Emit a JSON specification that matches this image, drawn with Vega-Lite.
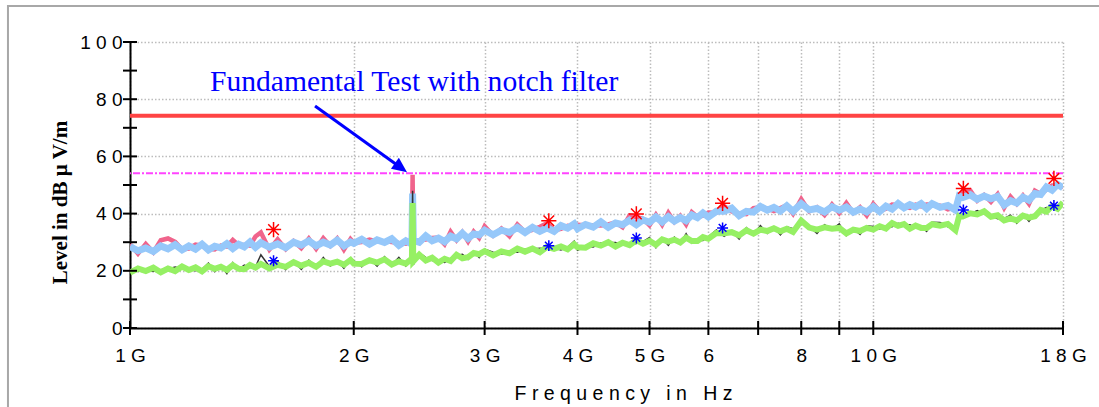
{
  "$schema": "https://vega.github.io/schema/vega-lite/v6.json",
  "width": 933,
  "height": 286,
  "autosize": "none",
  "padding": {"left": 130, "top": 42, "right": 36, "bottom": 79},
  "background": "white",
  "config": {"view": {"stroke": null}},
  "datasets": {
    "tr": [
      {"f":1.000,"b":28.5,"p":29.3,"g":19.4,"k":20.5},
      {"f":1.025,"b":27.0,"p":26.0,"g":20.8,"k":19.8},
      {"f":1.050,"b":28.0,"p":29.4,"g":19.9,"k":20.3},
      {"f":1.075,"b":26.8,"p":26.5,"g":21.1,"k":19.8},
      {"f":1.100,"b":28.7,"p":30.7,"g":19.5,"k":20.4},
      {"f":1.125,"b":27.7,"p":31.3,"g":20.8,"k":20.6},
      {"f":1.150,"b":29.1,"p":30.1,"g":19.9,"k":21.3},
      {"f":1.175,"b":27.3,"p":27.5,"g":21.5,"k":20.7},
      {"f":1.200,"b":28.7,"p":27.8,"g":20.3,"k":20.6},
      {"f":1.225,"b":27.6,"p":29.2,"g":21.2,"k":20.0},
      {"f":1.250,"b":29.3,"p":28.8,"g":19.8,"k":20.5},
      {"f":1.275,"b":27.3,"p":27.7,"g":21.6,"k":22.7},
      {"f":1.300,"b":28.6,"p":27.5,"g":20.7,"k":19.7},
      {"f":1.325,"b":28.0,"p":28.8,"g":21.4,"k":21.8},
      {"f":1.350,"b":29.5,"p":28.5,"g":20.3,"k":19.0},
      {"f":1.375,"b":27.8,"p":30.8,"g":22.0,"k":22.9},
      {"f":1.400,"b":29.3,"p":29.0,"g":20.7,"k":20.5},
      {"f":1.425,"b":28.4,"p":29.0,"g":20.6,"k":22.0},
      {"f":1.450,"b":30.1,"p":28.8,"g":22.0,"k":21.2},
      {"f":1.475,"b":28.2,"p":32.0,"g":21.1,"k":21.4},
      {"f":1.50,"b":29.8,"p":33.4,"g":22.4,"k":25.6},
      {"f":1.54,"b":28.3,"p":27.4,"g":20.8,"k":21.5},
      {"f":1.58,"b":29.4,"p":31.0,"g":22.1,"k":23.2},
      {"f":1.62,"b":28.1,"p":27.6,"g":21.4,"k":20.4},
      {"f":1.66,"b":30.0,"p":30.4,"g":23.0,"k":23.4},
      {"f":1.70,"b":29.0,"p":27.9,"g":21.8,"k":20.5},
      {"f":1.74,"b":30.5,"p":31.3,"g":22.8,"k":23.7},
      {"f":1.78,"b":28.7,"p":27.7,"g":21.4,"k":21.2},
      {"f":1.82,"b":30.0,"p":31.4,"g":23.3,"k":24.7},
      {"f":1.86,"b":29.0,"p":28.7,"g":22.5,"k":21.7},
      {"f":1.90,"b":30.7,"p":31.3,"g":23.2,"k":23.5},
      {"f":1.94,"b":28.7,"p":27.4,"g":22.1,"k":20.9},
      {"f":1.98,"b":30.1,"p":31.1,"g":23.8,"k":24.5},
      {"f":2.00,"b":29.6,"p":29.8,"g":22.5,"k":23.6},
      {"f":2.05,"b":31.0,"p":30.1,"g":22.4,"k":21.4},
      {"f":2.10,"b":29.3,"p":30.9,"g":23.7,"k":24.1},
      {"f":2.15,"b":30.8,"p":30.3,"g":22.9,"k":21.6},
      {"f":2.20,"b":29.9,"p":30.3,"g":24.0,"k":24.9},
      {"f":2.25,"b":31.2,"p":30.1,"g":22.2,"k":22.0},
      {"f":2.30,"b":28.9,"p":29.7,"g":23.3,"k":24.7},
      {"f":2.35,"b":30.5,"p":29.5,"g":22.5,"k":21.7},
      {"f":2.395,"b":29.3,"p":30.7,"g":24.3,"k":24.6},
      {"f":2.40,"b":47.0,"p":53.6,"g":43.7,"k":48.0},
      {"f":2.405,"b":30.7,"p":30.4,"g":23.3,"k":22.1},
      {"f":2.45,"b":30.0,"p":30.6,"g":25.6,"k":26.3},
      {"f":2.50,"b":32.2,"p":30.9,"g":23.6,"k":24.7},
      {"f":2.55,"b":30.5,"p":31.5,"g":24.6,"k":23.6},
      {"f":2.60,"b":31.4,"p":31.6,"g":22.9,"k":23.3},
      {"f":2.65,"b":30.2,"p":29.3,"g":24.2,"k":22.9},
      {"f":2.70,"b":32.1,"p":33.7,"g":23.4,"k":24.3},
      {"f":2.75,"b":31.2,"p":30.7,"g":25.6,"k":25.4},
      {"f":2.80,"b":33.1,"p":33.5,"g":24.4,"k":25.8},
      {"f":2.85,"b":31.3,"p":30.2,"g":24.8,"k":24.0},
      {"f":2.90,"b":32.9,"p":33.7,"g":26.2,"k":26.5},
      {"f":2.95,"b":32.5,"p":31.5,"g":25.8,"k":24.6},
      {"f":3.00,"b":34.2,"p":35.6,"g":26.9,"k":27.6},
      {"f":3.08,"b":32.6,"p":32.3,"g":25.4,"k":26.5},
      {"f":3.16,"b":34.2,"p":34.8,"g":26.8,"k":25.8},
      {"f":3.24,"b":33.4,"p":32.1,"g":26.1,"k":26.5},
      {"f":3.32,"b":35.2,"p":36.2,"g":27.8,"k":26.5},
      {"f":3.40,"b":33.4,"p":33.6,"g":26.7,"k":27.6},
      {"f":3.48,"b":35.2,"p":34.3,"g":27.8,"k":27.6},
      {"f":3.56,"b":33.8,"p":35.4,"g":26.5,"k":27.9},
      {"f":3.64,"b":35.0,"p":36.6,"g":28.4,"k":27.6},
      {"f":3.72,"b":33.8,"p":34.2,"g":27.7,"k":28.0},
      {"f":3.80,"b":35.8,"p":34.7,"g":28.5,"k":27.3},
      {"f":3.88,"b":34.9,"p":35.7,"g":27.5,"k":28.2},
      {"f":3.96,"b":36.4,"p":35.4,"g":29.3,"k":30.4},
      {"f":4.0,"b":34.7,"p":36.1,"g":28.2,"k":27.2},
      {"f":4.1,"b":36.2,"p":35.9,"g":28.1,"k":28.5},
      {"f":4.2,"b":35.3,"p":35.9,"g":29.6,"k":28.3},
      {"f":4.3,"b":37.1,"p":35.8,"g":28.8,"k":29.7},
      {"f":4.4,"b":35.2,"p":36.2,"g":30.0,"k":29.8},
      {"f":4.5,"b":36.7,"p":36.9,"g":28.5,"k":29.9},
      {"f":4.6,"b":36.1,"p":35.2,"g":29.8,"k":29.0},
      {"f":4.7,"b":37.7,"p":39.3,"g":29.0,"k":29.3},
      {"f":4.8,"b":36.1,"p":38.8,"g":30.7,"k":29.5},
      {"f":4.9,"b":37.8,"p":38.2,"g":29.5,"k":30.2},
      {"f":5.0,"b":37.0,"p":35.9,"g":30.5,"k":31.6},
      {"f":5.1,"b":38.8,"p":39.6,"g":29.1,"k":28.1},
      {"f":5.2,"b":37.1,"p":36.1,"g":31.0,"k":31.4},
      {"f":5.3,"b":38.9,"p":40.3,"g":30.2,"k":28.9},
      {"f":5.4,"b":37.4,"p":37.1,"g":30.9,"k":31.8},
      {"f":5.5,"b":38.6,"p":39.2,"g":29.9,"k":29.7},
      {"f":5.6,"b":37.5,"p":36.2,"g":31.6,"k":33.0},
      {"f":5.7,"b":39.5,"p":40.5,"g":30.4,"k":29.6},
      {"f":5.8,"b":38.6,"p":38.8,"g":30.4,"k":30.7},
      {"f":5.9,"b":40.2,"p":39.3,"g":31.8,"k":30.6},
      {"f":6.00,"b":38.8,"p":40.4,"g":31.2,"k":31.9},
      {"f":6.15,"b":40.8,"p":40.3,"g":33.2,"k":34.3},
      {"f":6.30,"b":40.8,"p":42.6,"g":33.1,"k":32.1},
      {"f":6.45,"b":41.9,"p":40.8,"g":33.5,"k":33.9},
      {"f":6.60,"b":39.3,"p":40.1,"g":32.4,"k":31.1},
      {"f":6.75,"b":40.8,"p":39.8,"g":34.2,"k":35.1},
      {"f":6.90,"b":40.5,"p":41.9,"g":33.0,"k":32.8},
      {"f":7.05,"b":42.5,"p":42.2,"g":34.4,"k":35.8},
      {"f":7.20,"b":41.2,"p":41.8,"g":33.9,"k":33.1},
      {"f":7.35,"b":42.2,"p":40.9,"g":34.9,"k":35.2},
      {"f":7.50,"b":40.9,"p":41.9,"g":33.8,"k":32.6},
      {"f":7.65,"b":42.7,"p":42.9,"g":34.7,"k":35.4},
      {"f":7.80,"b":40.8,"p":39.9,"g":33.6,"k":34.7},
      {"f":8.0,"b":43.5,"p":45.1,"g":37.5,"k":36.5},
      {"f":8.2,"b":41.3,"p":40.8,"g":35.1,"k":35.5},
      {"f":8.4,"b":41.8,"p":42.2,"g":34.4,"k":33.1},
      {"f":8.6,"b":40.6,"p":39.5,"g":35.2,"k":36.1},
      {"f":8.8,"b":42.4,"p":43.2,"g":34.7,"k":34.5},
      {"f":9.0,"b":41.2,"p":40.2,"g":35.0,"k":36.4},
      {"f":9.2,"b":42.3,"p":43.7,"g":33.1,"k":32.3},
      {"f":9.4,"b":40.5,"p":40.2,"g":34.4,"k":34.7},
      {"f":9.6,"b":41.6,"p":42.2,"g":33.9,"k":32.7},
      {"f":9.8,"b":40.6,"p":39.3,"g":35.0,"k":35.7},
      {"f":10.0,"b":42.4,"p":43.4,"g":34.4,"k":35.5},
      {"f":10.2,"b":40.7,"p":40.9,"g":35.6,"k":34.6},
      {"f":10.4,"b":42.6,"p":41.7,"g":34.8,"k":35.2},
      {"f":10.6,"b":41.6,"p":43.2,"g":36.7,"k":35.4},
      {"f":10.8,"b":43.5,"p":43.0,"g":35.7,"k":36.6},
      {"f":11.0,"b":42.0,"p":42.4,"g":36.3,"k":36.1},
      {"f":11.2,"b":43.1,"p":42.0,"g":34.7,"k":36.1},
      {"f":11.4,"b":42.3,"p":43.1,"g":35.8,"k":35.0},
      {"f":11.6,"b":43.5,"p":42.5,"g":35.0,"k":35.3},
      {"f":11.8,"b":41.8,"p":43.2,"g":35.0,"k":33.8},
      {"f":12.0,"b":43.5,"p":43.2,"g":36.3,"k":37.0},
      {"f":12.3,"b":42.2,"p":42.8,"g":35.8,"k":36.9},
      {"f":12.6,"b":42.8,"p":41.5,"g":36.4,"k":35.4},
      {"f":12.9,"b":41.2,"p":42.2,"g":34.2,"k":34.6},
      {"f":13.05,"b":46.1,"p":46.3,"g":39.2,"k":37.9},
      {"f":13.2,"b":45.6,"p":47.8,"g":39.0,"k":39.9},
      {"f":13.5,"b":46.6,"p":48.2,"g":40.1,"k":39.9},
      {"f":13.8,"b":45.0,"p":44.5,"g":39.7,"k":41.1},
      {"f":14.1,"b":46.1,"p":46.5,"g":40.8,"k":40.0},
      {"f":14.4,"b":45.2,"p":44.1,"g":38.9,"k":39.2},
      {"f":14.7,"b":46.0,"p":46.8,"g":39.4,"k":38.2},
      {"f":15.0,"b":43.0,"p":42.0,"g":37.6,"k":38.3},
      {"f":15.3,"b":44.5,"p":45.9,"g":38.3,"k":39.4},
      {"f":15.6,"b":43.7,"p":43.4,"g":37.6,"k":36.6},
      {"f":15.9,"b":45.7,"p":46.3,"g":39.3,"k":39.7},
      {"f":16.2,"b":44.7,"p":43.4,"g":38.6,"k":37.3},
      {"f":16.5,"b":47.0,"p":48.0,"g":39.1,"k":40.0},
      {"f":16.8,"b":46.7,"p":46.9,"g":41.3,"k":41.1},
      {"f":17.1,"b":49.3,"p":48.4,"g":40.7,"k":42.1},
      {"f":17.4,"b":48.2,"p":49.8,"g":42.6,"k":41.8},
      {"f":17.7,"b":50.2,"p":49.7,"g":41.7,"k":42.0},
      {"f":18.0,"b":49.0,"p":49.4,"g":43.9,"k":42.7}
    ],
    "redStars": [
      {"f":1.56,"v":34.4},{"f":3.66,"v":37.5},{"f":4.80,"v":39.9},
      {"f":6.27,"v":43.6},{"f":13.22,"v":48.8},{"f":17.5,"v":52.3}
    ],
    "blueStars": [
      {"f":1.56,"v":23.5},{"f":3.66,"v":28.8},{"f":4.80,"v":31.5},
      {"f":6.27,"v":35.0},{"f":13.22,"v":41.3},{"f":17.5,"v":42.8}
    ],
    "xticks": [{"f":1},{"f":2},{"f":3},{"f":4},{"f":5},{"f":6},{"f":7},{"f":8},{"f":9},{"f":10},{"f":18}],
    "yticks": [{"v":0},{"v":10},{"v":20},{"v":30},{"v":40},{"v":50},{"v":60},{"v":70},{"v":80},{"v":90},{"v":100}],
    "limits": [{"name":"limit","v":74.2},{"name":"margin","v":54.1}],
    "arrow": [{"f":1.774,"v":77.6,"f2":2.322,"v2":55.8}],
    "head": [{"f":2.359,"v":54.5}],
    "note": [{"f":1.281,"v":82.9,"t":"Fundamental Test with notch filter"}],
    "frame": [{"f":0.6852,"f2":40,"v":-40,"v2":112.6}]
  },
  "layer": [
    {
      "data": {"name": "tr"},
      "mark": {"type": "line", "color": "#f0648c", "strokeWidth": 4.5, "clip": true},
      "encoding": {
        "x": {
          "field": "f", "type": "quantitative",
          "scale": {"type": "log", "domain": [1, 18], "nice": false},
          "axis": {
            "values": [1, 2, 3, 4, 5, 6, 7, 8, 9, 10, 18],
            "grid": true, "gridDash": [1.5, 2], "gridColor": "#bcbcbc", "gridWidth": 1.5,
            "ticks": false, "tickSize": 0,
            "domainColor": "black", "domainWidth": 2,
            "labelFont": "Liberation Sans", "labelFontSize": 19, "labelColor": "black",
            "labelPadding": 18, "labelOverlap": false, "labelFlush": false, "labelBound": false,
            "labelExpr": "datum.value == 1 ? '1 G' : datum.value == 2 ? '2 G' : datum.value == 3 ? '3 G' : datum.value == 4 ? '4 G' : datum.value == 5 ? '5 G' : datum.value == 6 ? '6' : datum.value == 8 ? '8' : datum.value == 10 ? '1 0 G' : datum.value == 18 ? '1 8 G' : ''",
            "title": "F r e q u e n c y \u00a0 i n \u00a0 H z",
            "titleFont": "Liberation Sans", "titleFontSize": 19.5, "titleFontWeight": "normal", "titleColor": "black",
            "titleX": 493, "titleY": 65, "titleBaseline": "middle", "titleAlign": "center"
          }
        },
        "y": {
          "field": "p", "type": "quantitative",
          "scale": {"domain": [0, 100], "nice": false},
          "axis": {
            "values": [0, 10, 20, 30, 40, 50, 60, 70, 80, 90, 100],
            "grid": true, "gridDash": [1.5, 2], "gridColor": "#bcbcbc", "gridWidth": 1.5,
            "ticks": false, "tickSize": 0,
            "domainColor": "black", "domainWidth": 2,
            "labelFont": "Liberation Sans", "labelFontSize": 19, "labelColor": "black",
            "labelPadding": 8, "labelOverlap": false, "labelFlush": false,
            "labelExpr": "datum.value == 100 ? '1 0 0' : datum.value == 0 ? '0' : datum.value % 20 == 0 ? (datum.value / 10) + ' 0' : ''",
            "title": "Level in dB µ V/m",
            "titleFont": "Liberation Serif", "titleFontSize": 21, "titleFontWeight": "bold", "titleColor": "black",
            "titleAngle": -90, "titleX": -70, "titleY": 160, "titleBaseline": "middle", "titleAlign": "center"
          }
        }
      }
    },
    {
      "data": {"name": "frame"},
      "mark": {"type": "rect", "fill": null, "fillOpacity": 0, "stroke": "#a8a8a8", "strokeWidth": 2, "clip": false},
      "encoding": {
        "x": {"field": "f", "type": "quantitative", "scale": {"type": "log", "domain": [1, 18], "nice": false}},
        "x2": {"field": "f2"},
        "y": {"field": "v", "type": "quantitative", "scale": {"domain": [0, 100], "nice": false}},
        "y2": {"field": "v2"}
      }
    },
    {
      "data": {"name": "tr"},
      "mark": {"type": "line", "color": "#96c8fa", "strokeWidth": 7, "clip": true},
      "encoding": {
        "x": {"field": "f", "type": "quantitative", "scale": {"type": "log", "domain": [1, 18], "nice": false}},
        "y": {"field": "b", "type": "quantitative", "scale": {"domain": [0, 100], "nice": false}}
      }
    },
    {
      "data": {"name": "tr"},
      "mark": {"type": "line", "color": "#333333", "strokeWidth": 1.5, "clip": true},
      "encoding": {
        "x": {"field": "f", "type": "quantitative", "scale": {"type": "log", "domain": [1, 18], "nice": false}},
        "y": {"field": "k", "type": "quantitative", "scale": {"domain": [0, 100], "nice": false}}
      }
    },
    {
      "data": {"name": "tr"},
      "mark": {"type": "line", "color": "#96f064", "strokeWidth": 6, "clip": true},
      "encoding": {
        "x": {"field": "f", "type": "quantitative", "scale": {"type": "log", "domain": [1, 18], "nice": false}},
        "y": {"field": "g", "type": "quantitative", "scale": {"domain": [0, 100], "nice": false}}
      }
    },
    {
      "data": {"name": "limits"},
      "transform": [{"filter": "datum.name == 'limit'"}],
      "mark": {"type": "rule", "color": "#ff4444", "strokeWidth": 4},
      "encoding": {
        "y": {"field": "v", "type": "quantitative", "scale": {"domain": [0, 100], "nice": false}}
      }
    },
    {
      "data": {"name": "limits"},
      "transform": [{"filter": "datum.name == 'margin'"}],
      "mark": {"type": "rule", "color": "#ff44ff", "strokeWidth": 2, "strokeDash": [7, 2, 2, 2]},
      "encoding": {
        "y": {"field": "v", "type": "quantitative", "scale": {"domain": [0, 100], "nice": false}}
      }
    },
    {
      "data": {"name": "blueStars"},
      "mark": {"type": "point", "filled": false, "color": "#0000ff", "strokeWidth": 1.5, "opacity": 1, "size": 120,
               "shape": "M-1,0L1,0M0,-1L0,1M-0.7,-0.7L0.7,0.7M-0.7,0.7L0.7,-0.7"},
      "encoding": {
        "x": {"field": "f", "type": "quantitative", "scale": {"type": "log", "domain": [1, 18], "nice": false}},
        "y": {"field": "v", "type": "quantitative", "scale": {"domain": [0, 100], "nice": false}}
      }
    },
    {
      "data": {"name": "redStars"},
      "mark": {"type": "point", "filled": false, "color": "#ff0000", "strokeWidth": 1.5, "opacity": 1, "size": 230,
               "shape": "M-1,0L1,0M0,-1L0,1M-0.7,-0.7L0.7,0.7M-0.7,0.7L0.7,-0.7"},
      "encoding": {
        "x": {"field": "f", "type": "quantitative", "scale": {"type": "log", "domain": [1, 18], "nice": false}},
        "y": {"field": "v", "type": "quantitative", "scale": {"domain": [0, 100], "nice": false}}
      }
    },
    {
      "data": {"name": "xticks"},
      "mark": {"type": "tick", "orient": "vertical", "color": "black", "size": 14, "thickness": 2, "opacity": 1, "clip": false},
      "encoding": {
        "x": {"field": "f", "type": "quantitative", "scale": {"type": "log", "domain": [1, 18], "nice": false}},
        "y": {"datum": 0, "type": "quantitative", "scale": {"domain": [0, 100], "nice": false}}
      }
    },
    {
      "data": {"name": "yticks"},
      "mark": {"type": "tick", "orient": "horizontal", "color": "black", "size": 14, "thickness": 2, "opacity": 1, "clip": false},
      "encoding": {
        "x": {"datum": 1, "type": "quantitative", "scale": {"type": "log", "domain": [1, 18], "nice": false}},
        "y": {"field": "v", "type": "quantitative", "scale": {"domain": [0, 100], "nice": false}}
      }
    },
    {
      "data": {"name": "arrow"},
      "mark": {"type": "rule", "color": "#0000ff", "strokeWidth": 3},
      "encoding": {
        "x": {"field": "f", "type": "quantitative", "scale": {"type": "log", "domain": [1, 18], "nice": false}},
        "y": {"field": "v", "type": "quantitative", "scale": {"domain": [0, 100], "nice": false}},
        "x2": {"field": "f2"},
        "y2": {"field": "v2"}
      }
    },
    {
      "data": {"name": "head"},
      "mark": {"type": "point", "filled": true, "color": "#0000ff", "opacity": 1, "size": 900, "angle": 36,
               "shape": "M0,0L-1,-0.45L-1,0.45Z"},
      "encoding": {
        "x": {"field": "f", "type": "quantitative", "scale": {"type": "log", "domain": [1, 18], "nice": false}},
        "y": {"field": "v", "type": "quantitative", "scale": {"domain": [0, 100], "nice": false}}
      }
    },
    {
      "data": {"name": "note"},
      "mark": {"type": "text", "color": "#0000ff", "font": "Liberation Serif", "fontSize": 29.6, "align": "left", "baseline": "alphabetic"},
      "encoding": {
        "x": {"field": "f", "type": "quantitative", "scale": {"type": "log", "domain": [1, 18], "nice": false}},
        "y": {"field": "v", "type": "quantitative", "scale": {"domain": [0, 100], "nice": false}},
        "text": {"field": "t"}
      }
    }
  ]
}
